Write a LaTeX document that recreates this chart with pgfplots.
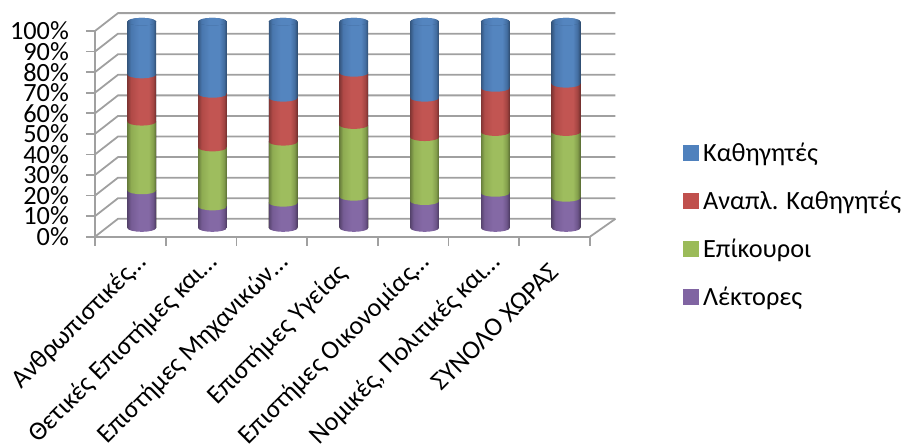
\documentclass[border=0pt]{standalone}
\usepackage{pgfplots}
\usepackage{pgfplotstable}
\pgfplotsset{compat=1.18}
\usepackage{fontspec}
\setmainfont{Carlito}
\definecolor{cblue}{HTML}{4F81BD}
\definecolor{cred}{HTML}{C0504D}
\definecolor{cgreen}{HTML}{9BBB59}
\definecolor{cpurple}{HTML}{8064A2}
\definecolor{gridc}{HTML}{A0A0A0}
\newcommand\cylshade[1]{%
  \pgfdeclarehorizontalshading{cyl#1}{100bp}{color(0bp)=(c#1!68!black);color(25bp)=(c#1!68!black);color(31bp)=(c#1!92!black);color(45bp)=(c#1!97!white);color(62bp)=(c#1!97!white);color(70bp)=(c#1!85!black);color(75bp)=(c#1!58!black);color(100bp)=(c#1!58!black)}%
  \pgfdeclareplotmark{m#1}{\path[rotate=7,shade,shading=cyl#1] (0,0) ellipse [x radius=14.4pt,y radius=3.8pt];}}
\cylshade{purple}
\cylshade{green}
\cylshade{red}
\cylshade{blue}
\pgfdeclareplotmark{mtop}{\path[rotate=7,fill=cblue!72!black] (0,0) ellipse [x radius=14.4pt,y radius=3.8pt];}
\pgfplotstableread{
x lek epi ana kath
0.5 18.2 33.3 22.9 25.6
1.5 10.4 28.6 26.0 35.0
2.5 12.2 29.6 21.3 36.9
3.5 15.1 34.8 25.3 24.8
4.5 13.0 31.0 19.1 36.9
5.5 17.0 29.5 21.4 32.1
6.5 14.6 31.9 23.4 30.1
}\shares
\pgfplotsset{
  barstyle/.style 2 args={draw=none,shade,shading=cyl#1,mark=#2,forget plot},
  swatch/.style={legend image code/.code={\fill[#1] (0pt,-7.5pt) rectangle (15pt,7.5pt);}},
}
\begin{document}
\begin{tikzpicture}
\useasboundingbox (0,0) rectangle (905pt,444pt);
\begin{axis}[
  at={(95pt,207.3pt)},anchor=south west,scale only axis,width=495pt,height=205.7pt,
  xmin=0,xmax=7,ymin=0,ymax=100,clip=false,
  axis line style={gridc,line width=1.8pt,-},
  axis x line*=bottom,axis y line*=left,
  xtick={0,1,...,7},
  x tick label as interval,
  xticklabels={Ανθρωπιστικές…,Θετικές Επιστήμες και…,Επιστήμες Μηχανικών…,Επιστήμες Υγείας\hspace*{16pt},Επιστήμες Οικονομίας…,Νομικές{,} Πολιτικές και…,ΣΥΝΟΛΟ ΧΩΡΑΣ\hspace*{16pt}},
  x tick label style={rotate=45,anchor=north east,font=\fontsize{26.3}{26.3}\selectfont,inner sep=0pt,xshift=0pt,yshift=-6pt},
  x tick style={draw=gridc,line width=1.8pt},
  ytick={0,10,...,100},
  yticklabel={\pgfmathprintnumber{\tick}\%},
  y tick label style={font=\fontsize{26.3}{26.3}\selectfont,/pgf/number format/assume math mode=true,inner sep=0pt,xshift=-17pt},
  y tick style={draw=gridc,line width=1.8pt},tickwidth=9pt,tick align=outside,
]
\pgfplotsinvokeforeach{0,10,...,100}{
  \addplot[gridc,line width=1.8pt,forget plot] coordinates {(0,#1) (0.325,#1+8.7) (7.36,#1+8.7)};
}
\addplot[gridc,line width=1.8pt,forget plot] coordinates {(7,0) (7.36,8.7)};
\end{axis}
\begin{axis}[
  at={(106.4pt,216pt)},anchor=south west,scale only axis,width=495pt,height=206.3pt,
  xmin=0,xmax=7,ymin=0,ymax=100,clip=false,hide axis,
  ybar,bar width=28.6pt,bar shift=0pt,
  legend style={at={(1.1649,0.425)},anchor=north west,draw=none,fill=none,inner sep=0pt,row sep=24.2pt,
    font=\fontsize{26.3}{26.3}\selectfont,/tikz/every odd column/.append style={column sep=2.5pt}},
  legend cell align=left,
]
\addlegendimage{swatch=cblue}\addlegendentry{Καθηγητές}
\addlegendimage{swatch=cred}\addlegendentry{Αναπλ. Καθηγητές}
\addlegendimage{swatch=cgreen}\addlegendentry{Επίκουροι}
\addlegendimage{swatch=cpurple}\addlegendentry{Λέκτορες}
\pgfplotsinvokeforeach{0.5,1.5,2.5,3.5,4.5,5.5,6.5}{
  \addplot[barstyle={blue}{mtop},restrict x to domain=#1:#1] table[x=x,y expr=\thisrow{lek}+\thisrow{epi}+\thisrow{ana}+\thisrow{kath}]{\shares};
  \addplot[barstyle={red}{mblue},restrict x to domain=#1:#1] table[x=x,y expr=\thisrow{lek}+\thisrow{epi}+\thisrow{ana}]{\shares};
  \addplot[barstyle={green}{mred},restrict x to domain=#1:#1] table[x=x,y expr=\thisrow{lek}+\thisrow{epi}]{\shares};
  \addplot[barstyle={purple}{mgreen},restrict x to domain=#1:#1] table[x=x,y=lek]{\shares};
}
\addplot[only marks,draw=none,mark=mpurple,forget plot] coordinates {(0.5,0)(1.5,0)(2.5,0)(3.5,0)(4.5,0)(5.5,0)(6.5,0)};
\end{axis}
\end{tikzpicture}
\end{document}
